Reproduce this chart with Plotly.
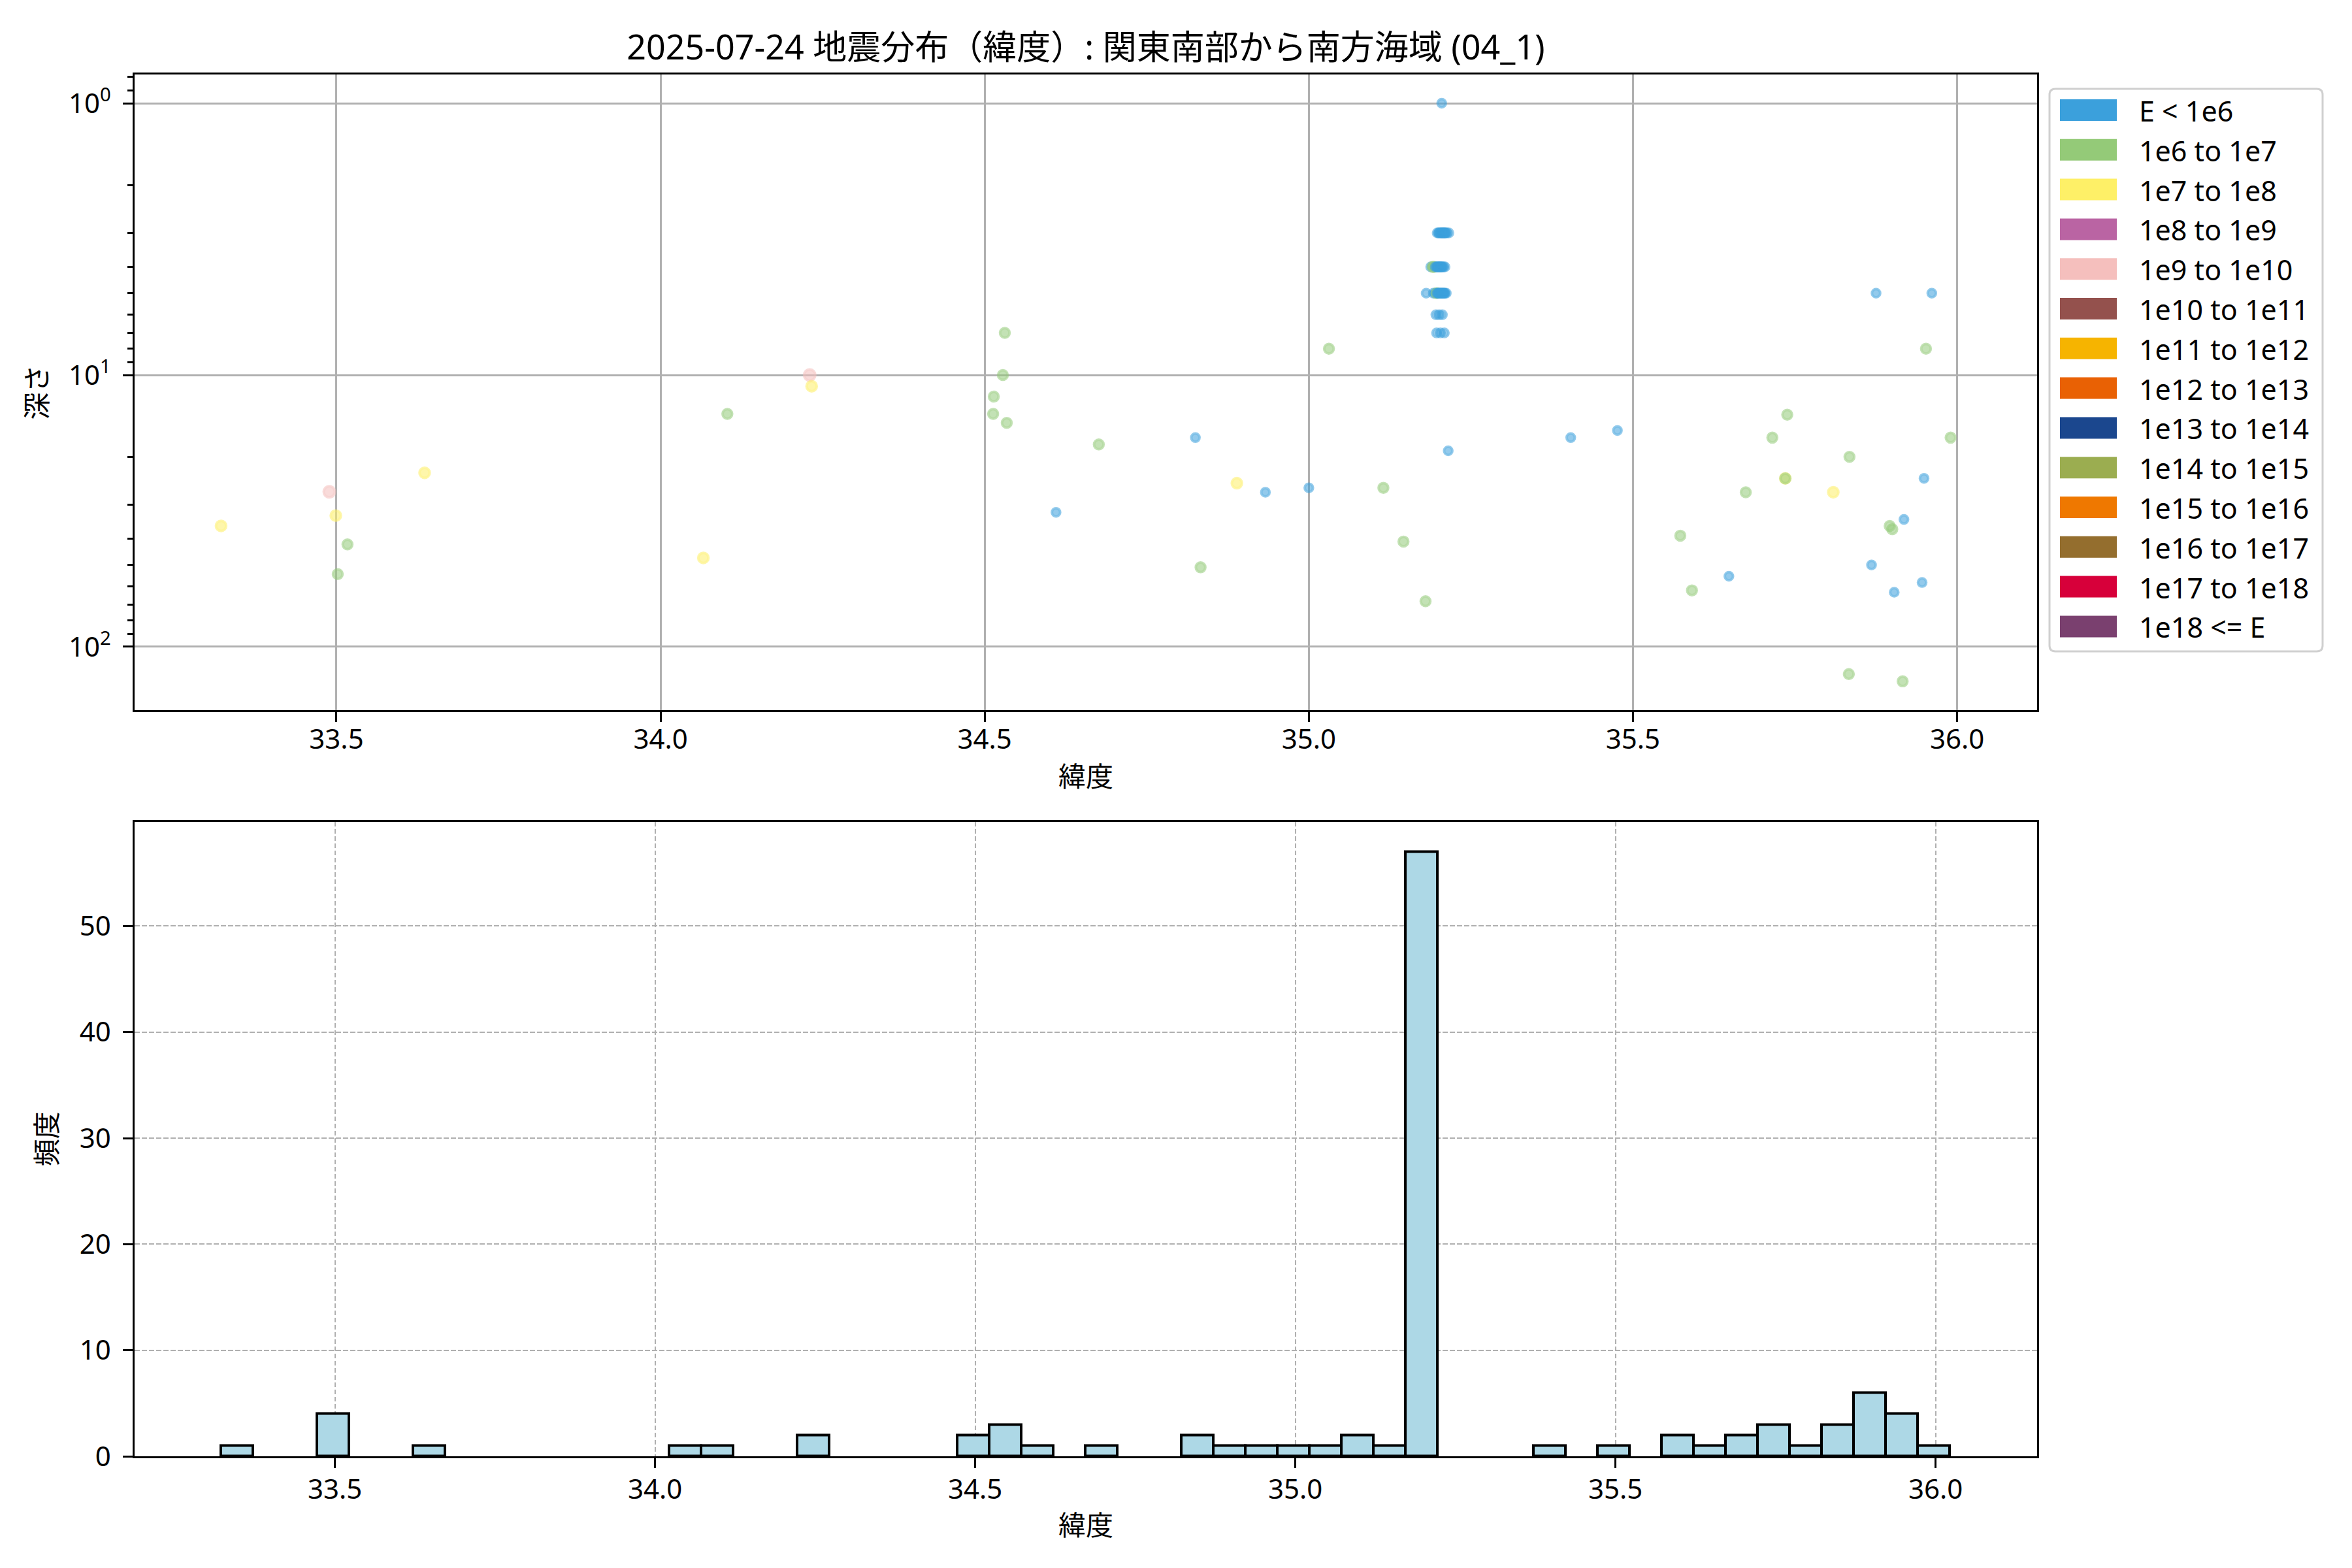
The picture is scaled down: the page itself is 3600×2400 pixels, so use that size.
import plotly.graph_objects as go

FONT = "Noto Sans, Noto Sans CJK JP"

# ---------------- data ----------------
title_text = "2025-07-24 地震分布（緯度）: 関東南部から南方海域 (04_1)"
x_title = "緯度"
y_title_top = "深さ"
y_title_bottom = "頻度"

energy_classes = ["E < 1e6", "1e6 to 1e7", "1e7 to 1e8", "1e8 to 1e9", "1e9 to 1e10",
                  "1e10 to 1e11", "1e11 to 1e12", "1e12 to 1e13", "1e13 to 1e14",
                  "1e14 to 1e15", "1e15 to 1e16", "1e16 to 1e17", "1e17 to 1e18", "1e18 <= E"]
class_colors = ["#3BA0DC", "#94CA78", "#FEF067", "#BA64A3", "#F5BFBD",
                "#94514D", "#F6B400", "#E96104", "#1B478E", "#9BAD50",
                "#EF7800", "#946E2E", "#D7003A", "#7A406F"]

# scattered events (latitude, depth km, energy class index)
lat_scatter = [33.322, 33.489, 33.499, 33.517, 33.502, 33.636, 34.066, 34.103, 34.230, 34.233,
               34.514, 34.513, 34.531, 34.528, 34.534, 34.610, 34.676, 34.825, 34.833, 34.889,
               34.933, 35.000, 35.031, 35.115, 35.102, 35.146, 35.404, 35.476, 35.573, 35.591,
               35.648, 35.674, 35.715, 35.738, 35.735, 35.735, 35.809, 35.834, 35.833, 35.868,
               35.875, 35.918, 35.896, 35.900, 35.903, 35.916, 35.961, 35.952, 35.949, 35.946,
               35.990]
depth_scatter = [35.9, 26.9, 32.9, 42.0, 54.0, 22.9, 47.1, 13.9, 10.0, 11.0,
                 12.0, 13.9, 7.0, 10.0, 15.0, 32.0, 18.0, 17.0, 51.0, 25.0,
                 27.0, 26.0, 8.0, 26.0, 0.0, 41.0, 17.0, 16.0, 39.0, 62.0,
                 55.0, 27.0, 17.0, 14.0, 24.0, 24.0, 27.0, 20.0, 126.0, 50.0,
                 5.0, 34.0, 35.9, 36.9, 63.0, 134.0, 5.0, 8.0, 24.0, 58.0,
                 17.0]
class_scatter = [2, 4, 2, 1, 1, 2, 2, 1, 4, 2,
                 1, 1, 1, 1, 1, 0, 1, 0, 1, 2,
                 0, 0, 1, 1, 0, 1, 0, 0, 1, 1,
                 0, 1, 1, 1, 2, 1, 2, 1, 1, 0,
                 0, 0, 1, 1, 0, 1, 0, 1, 0, 0,
                 1]

# swarm near 35.2N
lat_swarm = [35.205, 35.215, 35.180,
             35.198, 35.200, 35.201, 35.203, 35.204, 35.205, 35.206, 35.207, 35.208, 35.209,
             35.210, 35.211, 35.213, 35.216,
             35.188, 35.191, 35.193, 35.195, 35.197, 35.198, 35.199, 35.200, 35.201, 35.202,
             35.203, 35.204, 35.205, 35.206, 35.208, 35.210,
             35.181, 35.192, 35.195, 35.197, 35.198, 35.199, 35.200, 35.201, 35.202, 35.203,
             35.204, 35.205, 35.206, 35.207, 35.208, 35.209, 35.210, 35.212,
             35.196, 35.201, 35.206,
             35.197, 35.203, 35.209]
depth_swarm = [1.0, 19.0, 68.0,
               3.0, 3.0, 3.0, 3.0, 3.0, 3.0, 3.0, 3.0, 3.0, 3.0, 3.0, 3.0, 3.0, 3.0,
               4.0, 4.0, 4.0, 4.0, 4.0, 4.0, 4.0, 4.0, 4.0, 4.0, 4.0, 4.0, 4.0, 4.0, 4.0, 4.0,
               5.0, 5.0, 5.0, 5.0, 5.0, 5.0, 5.0, 5.0, 5.0, 5.0, 5.0, 5.0, 5.0, 5.0, 5.0, 5.0, 5.0, 5.0,
               6.0, 6.0, 6.0,
               7.0, 7.0, 7.0]
class_swarm = [0, 0, 1,
               0, 0, 0, 0, 0, 0, 0, 0, 0, 0, 0, 0, 0, 0,
               0, 1, 1, 0, 0, 0, 0, 0, 0, 0, 0, 0, 0, 0, 0, 0,
               0, 0, 0, 1, 0, 0, 0, 0, 0, 0, 0, 0, 0, 0, 0, 0, 0, 0,
               0, 0, 0,
               0, 0, 0]

hist_bin_width = 0.05
hist_bin_count = 54

# ---------------- styles ----------------
class_marker_size = [12.5, 14.5, 15.5, 16.0, 17.0, 17.5, 18, 18.5, 19, 19.5, 20, 20.5, 21, 21.5]
MARKER_ALPHA = 0.78


def rgba(hexc, a):
    h = hexc.lstrip("#")
    return "rgba(%d,%d,%d,%.3f)" % (int(h[0:2], 16), int(h[2:4], 16), int(h[4:6], 16), a)


lat = lat_scatter + lat_swarm
depth = depth_scatter + depth_swarm
cls = class_scatter + class_swarm

# page body has an 8px margin: figure is 3592x2392 so the page is exactly 3600x2400
OFF = 8
W, H = 3600 - OFF, 2400 - OFF
# design coordinates below are screen px; convert to figure px by subtracting OFF
L = 206 - OFF
T = 114 - OFF
R = W - (3118 - OFF)
B = H - (2229 - OFF)
PW, PH = W - L - R, H - T - B


def px2x(px):
    return (px - OFF - L) / PW


def py2y(py):
    return (H - B - (py - OFF)) / PH


TICK_FS = 42
LEG_FS = 43
fig = go.Figure()

fig.add_trace(go.Scatter(
    x=lat, y=depth, mode="markers", xaxis="x", yaxis="y", showlegend=False,
    marker=dict(
        color=[rgba(class_colors[c], MARKER_ALPHA) for c in cls],
        size=[class_marker_size[c] for c in cls],
        line=dict(color=[rgba(class_colors[c], MARKER_ALPHA) for c in cls], width=4),
    ),
))

hist_start = min(lat)
fig.add_trace(go.Histogram(
    x=lat, xaxis="x2", yaxis="y2", showlegend=False,
    xbins=dict(start=hist_start, end=hist_start + hist_bin_width * hist_bin_count, size=hist_bin_width),
    marker=dict(color="#ADD8E6", line=dict(color="black", width=4)),
))

lat_ticks = [33.5, 34.0, 34.5, 35.0, 35.5, 36.0]
common_axis = dict(
    showline=True, linecolor="black", linewidth=3.3, mirror=True,
    ticks="outside", ticklen=14.6, tickwidth=3.3, tickcolor="black",
    tickfont=dict(family=FONT, size=TICK_FS, color="black"),
    zeroline=False, automargin=False,
)

fig.update_layout(
    width=W, height=H,
    margin=dict(l=L, r=R, t=T, b=B),
    paper_bgcolor="white", plot_bgcolor="white",
    font=dict(family=FONT, size=TICK_FS, color="black"),
    bargap=0,
    title=dict(text=title_text, x=0.5, xref="paper", xanchor="center",
               y=1 - (73 - OFF) / H, yref="container", yanchor="middle",
               font=dict(family=FONT, size=52, color="black")),
    xaxis=dict(common_axis, anchor="y", domain=[0, 1], range=[33.1886, 36.1234],
               tickvals=lat_ticks, ticktext=["%.1f" % v for v in lat_ticks],
               showgrid=True, gridcolor="#b0b0b0", gridwidth=2.6, ticklabelstandoff=-9,
               title=dict(text=x_title, font=dict(family=FONT, size=TICK_FS), standoff=18)),
    yaxis=dict(common_axis, anchor="x", type="log", domain=[py2y(1087), 1],
               range=[2.2332, -0.1058],
               tickvals=[1, 10, 100], ticktext=["10<sup>0</sup>", "10<sup>1</sup>", "10<sup>2</sup>"],
               showgrid=True, gridcolor="#b0b0b0", gridwidth=2.6, ticklabelstandoff=10,
               minor=dict(tickvals=[0.8, 0.9, 2, 3, 4, 5, 6, 7, 8, 9, 20, 30, 40, 50, 60, 70, 80, 90],
                          ticks="outside", ticklen=8.3, tickwidth=2.5, tickcolor="black", showgrid=False),
               title=dict(text=y_title_top, font=dict(family=FONT, size=TICK_FS), standoff=20)),
    xaxis2=dict(common_axis, anchor="y2", domain=[0, 1], range=[33.1872, 36.1586],
                tickvals=lat_ticks, ticktext=["%.1f" % v for v in lat_ticks],
                showgrid=True, gridcolor="#b0b0b0", gridwidth=2, griddash="7.7px,3.3px",
                ticklabelstandoff=-3,
                title=dict(text=x_title, font=dict(family=FONT, size=TICK_FS), standoff=16)),
    yaxis2=dict(common_axis, anchor="x2", domain=[0, py2y(1257.6)], range=[0, 59.85],
                tickvals=[0, 10, 20, 30, 40, 50], ticktext=["0", "10", "20", "30", "40", "50"],
                showgrid=True, gridcolor="#b0b0b0", gridwidth=2, griddash="7.7px,3.3px",
                ticklabelstandoff=10,
                title=dict(text=y_title_bottom, font=dict(family=FONT, size=TICK_FS), standoff=22)),
)

# ---------------- legend (drawn) ----------------
bx0, bx1, by0, by1, rad = 3137, 3555, 136, 997, 9
X0, X1 = px2x(bx0), px2x(bx1)
Y0, Y1 = py2y(by1), py2y(by0)
rx, ry = rad / PW, rad / PH
path = (f"M{X0 + rx},{Y0} L{X1 - rx},{Y0} Q{X1},{Y0} {X1},{Y0 + ry} "
        f"L{X1},{Y1 - ry} Q{X1},{Y1} {X1 - rx},{Y1} L{X0 + rx},{Y1} Q{X0},{Y1} {X0},{Y1 - ry} "
        f"L{X0},{Y0 + ry} Q{X0},{Y0} {X0 + rx},{Y0} Z")
fig.add_shape(type="path", path=path, xref="paper", yref="paper",
              line=dict(color="#d0d0d0", width=3), fillcolor="white", layer="above")

for i, (name, col) in enumerate(zip(energy_classes, class_colors)):
    cy = 168.5 + 60.8 * i
    fig.add_shape(type="rect", xref="paper", yref="paper",
                  x0=px2x(3153), x1=px2x(3240), y0=py2y(cy + 16.5), y1=py2y(cy - 16.5),
                  fillcolor=col, line=dict(width=0), layer="above")
    fig.add_annotation(text=name, xref="paper", yref="paper", x=px2x(3272), y=py2y(cy + 1),
                       xanchor="left", yanchor="middle", showarrow=False,
                       font=dict(family=FONT, size=LEG_FS, color="black"))

fig.write_html("out.html")
